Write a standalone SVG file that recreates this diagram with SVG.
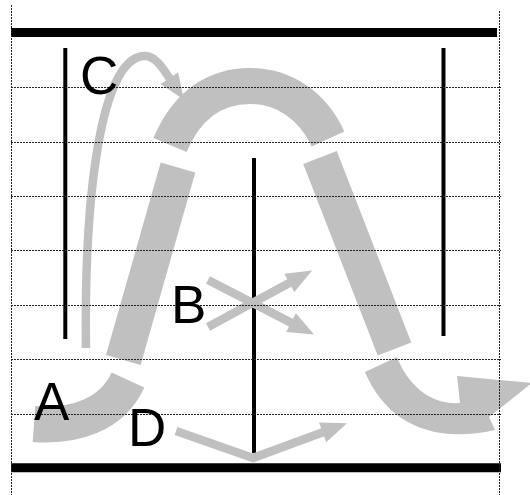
<svg xmlns="http://www.w3.org/2000/svg" width="530" height="495" viewBox="0 0 530 495">
<style>
.grid{stroke:#222;stroke-width:1;stroke-dasharray:2,1;fill:none}
.wall{stroke:#000;stroke-width:9;fill:none}
.bar{stroke:#000;stroke-width:4;fill:none}
.band{stroke:#c0c0c0;stroke-width:36;fill:none;stroke-linecap:butt}
.ray{stroke:#c0c0c0;stroke-width:8.5;fill:none;stroke-linecap:butt;stroke-linejoin:miter}
.lbl{font-family:"Liberation Sans",Arial,sans-serif;font-size:53px;fill:#000}
</style>
<defs>
<marker id="ah" markerUnits="userSpaceOnUse" markerWidth="30" markerHeight="30" refX="1" refY="0" orient="auto" overflow="visible">
<path d="M0,-10.5 L26,0 L0,10.5 Z" fill="#c0c0c0"/>
</marker>
</defs>
<rect width="530" height="495" fill="#fff"/>
<g id="walls">
<line class="wall" x1="11" y1="32.5" x2="497" y2="32.5"/>
<line class="wall" x1="11" y1="467.8" x2="501" y2="467.8"/>
<line class="bar" x1="65.3" y1="48" x2="65.3" y2="339"/>
<line class="bar" x1="254" y1="158" x2="254" y2="453"/>
<line class="bar" x1="443.5" y1="48" x2="443.5" y2="336"/>
</g>
<g id="connectors">
<path class="band" d="M34 424 C75 427, 112 415, 128 380"/>
<path class="band" d="M123.3 360 L178 167.5"/>
<path class="band" d="M170 145 C188 102, 218 86, 250 86 C282 86, 312 104, 328 139"/>
<path class="band" d="M320 157.5 L394.5 349"/>
<path d="M365 372 C385 420, 430 445, 495 430 L489 417 L532 383 L457 376 L460 403 C430 405, 408 385, 397 357 Z" fill="#c0c0c0"/>
<path class="ray" d="M86 348 C84 200, 100 56, 145 56 C156 56, 164 70, 170 79" marker-end="url(#ah)"/>
<path class="ray" d="M208 327 L290.2 282.4" marker-end="url(#ah)"/>
<path class="ray" d="M208 280 L291.9 323.1" marker-end="url(#ah)"/>
<path class="ray" d="M176 431 L253 458 L323.6 432" marker-end="url(#ah)"/>
</g>
<g id="grid">
<line class="grid" x1="11.5" y1="5" x2="11.5" y2="495"/>
<line class="grid" x1="499.5" y1="11" x2="499.5" y2="495"/>
<line class="grid" x1="11" y1="87.5" x2="501" y2="87.5"/>
<line class="grid" x1="11" y1="142.5" x2="501" y2="142.5"/>
<line class="grid" x1="11" y1="196.5" x2="501" y2="196.5"/>
<line class="grid" x1="11" y1="250.5" x2="501" y2="250.5"/>
<line class="grid" x1="11" y1="305.5" x2="501" y2="305.5"/>
<line class="grid" x1="11" y1="359.5" x2="501" y2="359.5"/>
<line class="grid" x1="11" y1="414.5" x2="501" y2="414.5"/>
</g>
<g id="labelA"><text class="lbl" x="34" y="420">A</text></g>
<g id="labelB"><text class="lbl" x="171" y="323">B</text></g>
<g id="labelC"><text class="lbl" x="80" y="94">C</text></g>
<g id="labelD"><text class="lbl" x="128" y="446">D</text></g>
</svg>
